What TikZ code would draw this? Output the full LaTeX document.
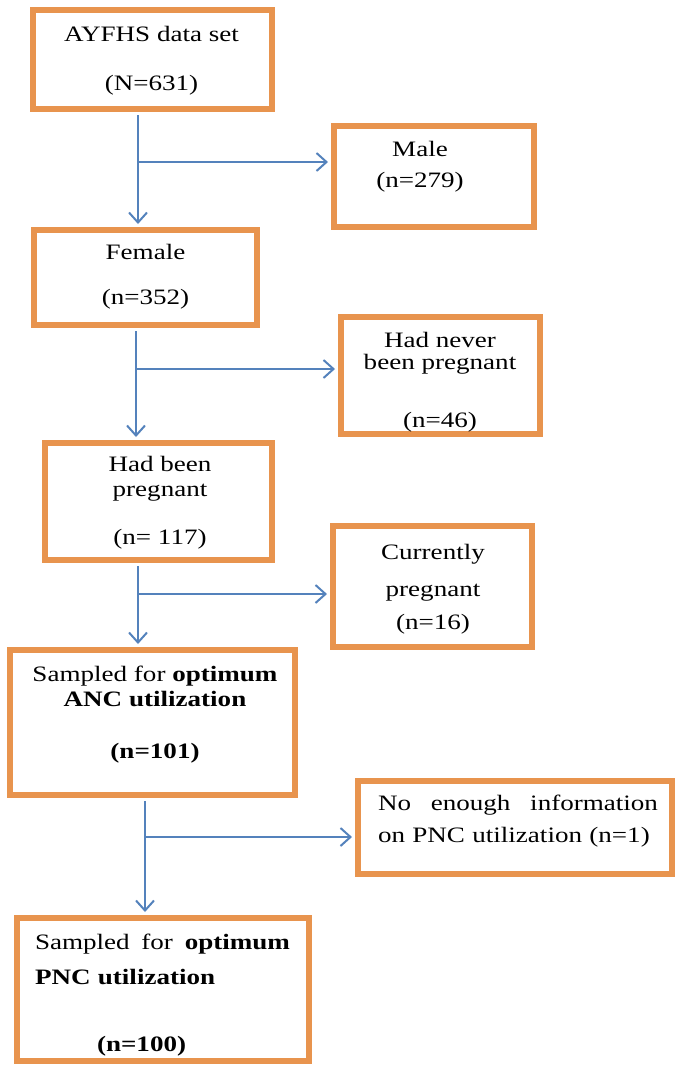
\documentclass[tikz,border=0pt]{standalone}
\usepackage{fontspec}
\setmainfont{Liberation Serif}[FakeStretch=1.23]
\usetikzlibrary{arrows.meta, positioning}
\definecolor{boxorange}{RGB}{232, 148, 78}
\definecolor{flowblue}{RGB}{84, 130, 188}

\begin{document}
\begin{tikzpicture}[
    x=0.5pt, y=-0.5pt,
    box/.style={rectangle, draw=boxorange, line width=3pt, fill=white},
    txt/.style={align=center, inner sep=0pt, font=\fontsize{11}{11}\selectfont},
    arrow/.style={-{Straight Barb[length=5pt, width=9pt]}, line width=1pt, color=flowblue, shorten >=1.5pt},
]
\useasboundingbox (0,0) rectangle (676,1066);

% Main column
\node[box, minimum width=119.5pt, minimum height=49.5pt] (dataset) at (152.5, 59.5) {};
\node[txt] (datasettxt) at (151.5, 61) {AYFHS data set\\[13.5pt](N=631)};

\node[box, minimum width=111.5pt, minimum height=47.5pt] (female) at (145.5, 277.5) {};
\node[txt] (femaletxt) at (145.5, 277) {Female\\[11.5pt](n=352)};

\node[box, minimum width=113.5pt, minimum height=58.5pt] (been) at (158.5, 501.5) {};
\node[txt] (beentxt) at (160, 503) {Had been\\[1.5pt]pregnant\\[13pt](n= 117)};

\node[box, minimum width=142.5pt, minimum height=72.5pt] (anc) at (152.5, 722.5) {};
\node[txt] (anctxt) at (155, 715) {Sampled for \textbf{optimum}\\[1.5pt]\textbf{ANC utilization}\\[15pt]\textbf{(n=101)}};

\node[box, minimum width=146pt, minimum height=71.5pt] (pnc) at (163, 989.5) {};
\node[txt, align=left, text width=127.5pt] (pnctxt) at (162.5, 995.5) {\makebox[127.5pt]{Sampled\hfill for\hfill \textbf{optimum}}\\[6.5pt]\textbf{PNC utilization}\\[22.5pt]\hspace*{31pt}\textbf{(n=100)}};

% Excluded boxes
\node[box, minimum width=100pt, minimum height=50.5pt] (male) at (434, 176.5) {};
\node[txt] (maletxt) at (420, 167) {Male\\[4.5pt](n=279)};

\node[box, minimum width=99.5pt, minimum height=58.5pt] (never) at (440.5, 375.5) {};
\node[txt] (nevertxt) at (440, 382.5) {Had never\\been pregnant\\[18pt](n=46)};

\node[box, minimum width=99.5pt, minimum height=60.5pt] (current) at (432.5, 586.5) {};
\node[txt] (currenttxt) at (433, 589.5) {Currently\\[7.5pt]pregnant\\[5.5pt](n=16)};

\node[box, minimum width=157pt, minimum height=46.5pt] (noinfo) at (515, 827.5) {};
\node[txt, align=left, text width=140pt] (noinfotxt) at (518, 821.5) {\makebox[140pt]{No\hfill enough\hfill information}\\[5pt]on PNC utilization (n=1)};

% Branch points
\coordinate (b1) at (138, 162);
\coordinate (b2) at (136, 369);
\coordinate (b3) at (138, 594);
\coordinate (b4) at (145, 837);

% Flow arrows
\draw[arrow, shorten <=1.5pt] (dataset.south -| b1) -- (female.north -| b1);
\draw[arrow] (b1) -- (b1 -| male.west);
\draw[arrow, shorten <=1.5pt] (female.south -| b2) -- (been.north -| b2);
\draw[arrow] (b2) -- (b2 -| never.west);
\draw[arrow, shorten <=1.5pt] (been.south -| b3) -- (anc.north -| b3);
\draw[arrow] (b3) -- (b3 -| current.west);
\draw[arrow, shorten <=1.5pt] (anc.south -| b4) -- (pnc.north -| b4);
\draw[arrow] (b4) -- (b4 -| noinfo.west);

\end{tikzpicture}
\end{document}
